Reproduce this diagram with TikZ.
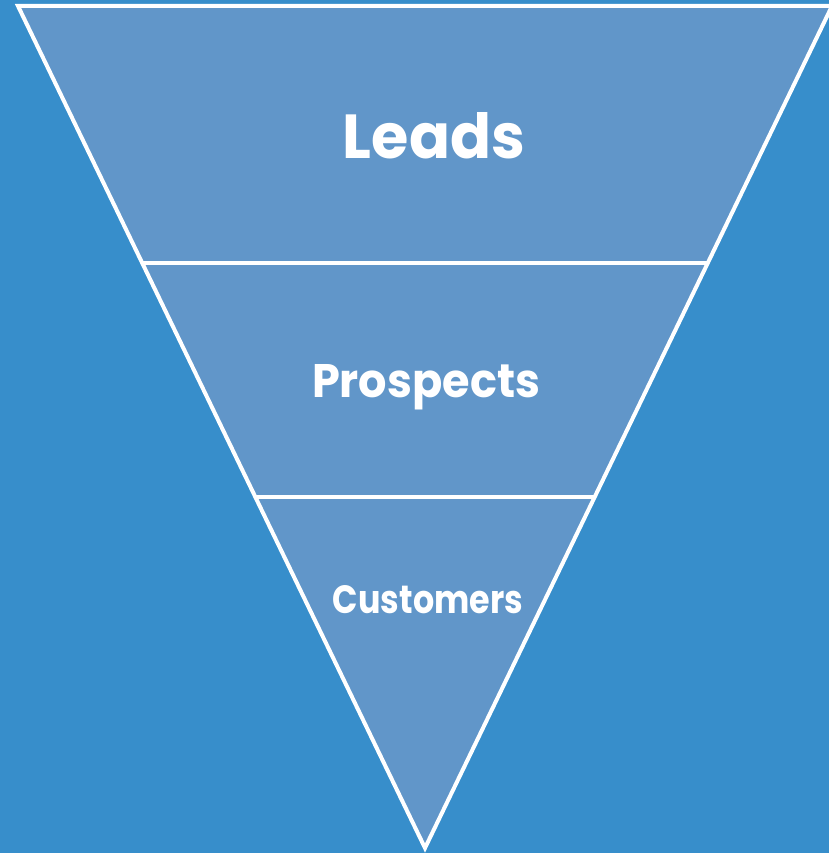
\documentclass[tikz,border=0pt]{standalone}
\usepackage{fontspec}
\setmainfont{Poppins}
\usepackage{graphicx}
\definecolor{bgblue}{HTML}{378ECB}
\definecolor{funnelblue}{HTML}{6196C9}
\tikzset{
  stageline/.style={draw=white, line width=4pt},
  label/.style={text=white, inner sep=0pt, anchor=base, font=\bfseries}
}
\begin{document}
\begin{tikzpicture}[x=1pt,y=-1pt]
\fill[bgblue] (0,0) rectangle (829,853);
\useasboundingbox (0,0) rectangle (829,853);
\coordinate (tl) at (18,6);
\coordinate (tr) at (832,6);
\coordinate (ap) at (425,848);
\coordinate (l1) at (142,263);
\coordinate (r1) at (708,263);
\coordinate (l2) at (255,497);
\coordinate (r2) at (595,497);
\fill[funnelblue] (tl) -- (tr) -- (ap) -- cycle;
\draw[stageline, line join=miter] (tl) -- (tr) -- (ap) -- cycle;
\draw[stageline] (l1) -- (r1);
\draw[stageline] (l2) -- (r2);
\node[label] (leads) at (434,158) {\resizebox{182pt}{46pt}{Leads}};
\node[label] (prospects) at (426,397) {\resizebox{228pt}{33pt}{Prospects}};
\node[label] (customers) at (428,613) {\resizebox{190pt}{28pt}{Customers}};
\end{tikzpicture}
\end{document}
